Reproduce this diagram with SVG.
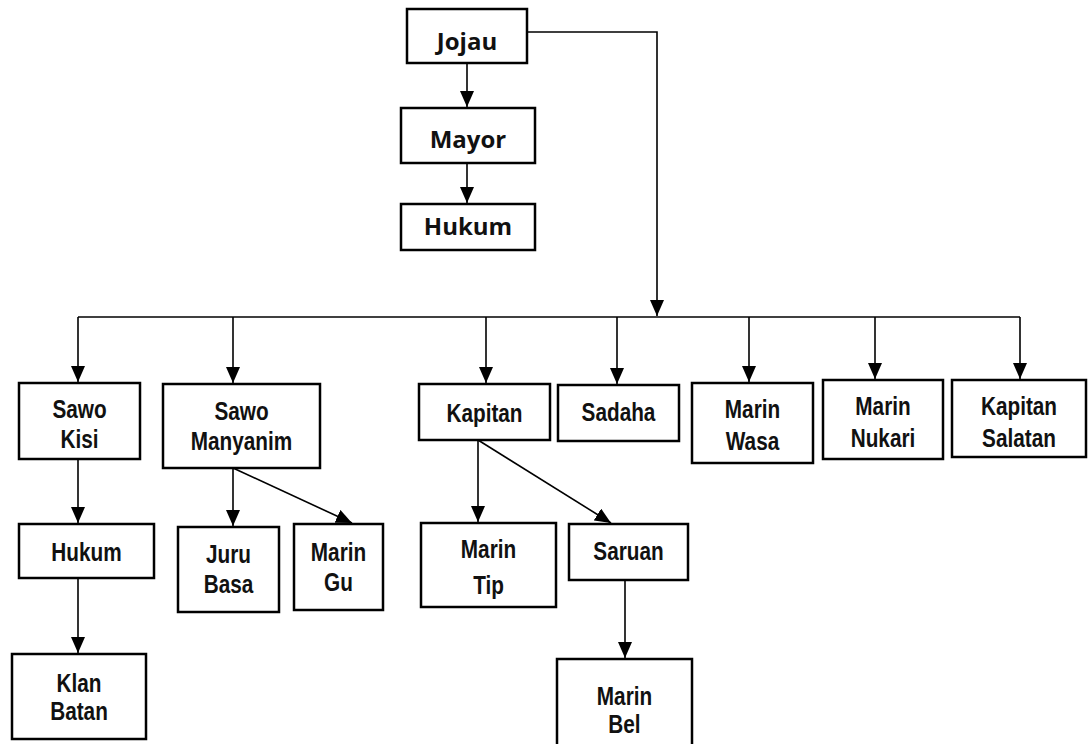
<svg xmlns="http://www.w3.org/2000/svg" width="1088" height="744" viewBox="0 0 1088 744">
<style>
.box{fill:#fff;stroke:#000;stroke-width:2.5}
.c{fill:none;stroke:#000;stroke-width:1.6}
.t1{font-family:"Open Sans","Liberation Sans",sans-serif;font-weight:700;font-size:24px;text-anchor:middle;fill:#111}
.t2{font-family:"Liberation Sans",Arial,sans-serif;font-weight:700;font-size:25px;text-anchor:middle;fill:#111}
</style>
<defs>
<marker id="ah" markerUnits="userSpaceOnUse" markerWidth="16" markerHeight="14" refX="16" refY="7" orient="auto">
<path d="M0,0 L16,7 L0,14 z" fill="#000"/>
</marker>
</defs>
<rect width="1088" height="744" fill="#fff"/>
<g id="connectors">
<line class="c" x1="467" y1="63" x2="467" y2="107" marker-end="url(#ah)"/>
<line class="c" x1="467" y1="163" x2="467" y2="203" marker-end="url(#ah)"/>
<polyline class="c" points="527,32 657,32 657,316" marker-end="url(#ah)"/>
<line class="c" x1="78" y1="317" x2="1020" y2="317"/>
<line class="c" x1="78" y1="317" x2="78" y2="382" marker-end="url(#ah)"/>
<line class="c" x1="233" y1="317" x2="233" y2="383" marker-end="url(#ah)"/>
<line class="c" x1="486" y1="317" x2="486" y2="383" marker-end="url(#ah)"/>
<line class="c" x1="617" y1="317" x2="617" y2="384" marker-end="url(#ah)"/>
<line class="c" x1="749" y1="317" x2="749" y2="382" marker-end="url(#ah)"/>
<line class="c" x1="875" y1="317" x2="875" y2="379" marker-end="url(#ah)"/>
<line class="c" x1="1020" y1="317" x2="1020" y2="379" marker-end="url(#ah)"/>
<line class="c" x1="78" y1="459" x2="78" y2="523" marker-end="url(#ah)"/>
<line class="c" x1="78" y1="578" x2="78" y2="653" marker-end="url(#ah)"/>
<line class="c" x1="233" y1="468" x2="233" y2="526" marker-end="url(#ah)"/>
<line class="c" x1="233" y1="468" x2="352" y2="523" marker-end="url(#ah)"/>
<line class="c" x1="478" y1="440" x2="478" y2="522" marker-end="url(#ah)"/>
<line class="c" x1="478" y1="440" x2="611" y2="523" marker-end="url(#ah)"/>
<line class="c" x1="625" y1="580" x2="625" y2="658" marker-end="url(#ah)"/>
</g>
<g id="jojau"><rect class="box" x="407" y="9" width="120" height="54"/><text class="t1" x="467" y="50">Jojau</text></g>
<g id="mayor"><rect class="box" x="401" y="108" width="134" height="55"/><text class="t1" x="468" y="148">Mayor</text></g>
<g id="hukum-top"><rect class="box" x="401" y="204" width="134" height="46"/><text class="t1" x="468" y="235">Hukum</text></g>
<g id="sawo-kisi"><rect class="box" x="19" y="383" width="121" height="76"/>
<text class="t2" transform="translate(79.5,418) scale(0.83,1)">Sawo</text><text class="t2" transform="translate(79.5,448) scale(0.83,1)">Kisi</text></g>
<g id="sawo-manyanim"><rect class="box" x="163" y="384" width="157" height="84"/>
<text class="t2" transform="translate(241.5,420) scale(0.83,1)">Sawo</text><text class="t2" transform="translate(241.5,450) scale(0.83,1)">Manyanim</text></g>
<g id="kapitan"><rect class="box" x="419" y="384" width="131" height="56"/>
<text class="t2" transform="translate(484.5,422) scale(0.83,1)">Kapitan</text></g>
<g id="sadaha"><rect class="box" x="558" y="385" width="121" height="56"/>
<text class="t2" transform="translate(618.5,421) scale(0.83,1)">Sadaha</text></g>
<g id="marin-wasa"><rect class="box" x="692" y="383" width="121" height="80"/>
<text class="t2" transform="translate(752.5,418) scale(0.83,1)">Marin</text><text class="t2" transform="translate(752.5,450) scale(0.83,1)">Wasa</text></g>
<g id="marin-nukari"><rect class="box" x="823" y="380" width="120" height="79"/>
<text class="t2" transform="translate(883,415) scale(0.83,1)">Marin</text><text class="t2" transform="translate(883,447) scale(0.83,1)">Nukari</text></g>
<g id="kapitan-salatan"><rect class="box" x="952" y="380" width="134" height="77"/>
<text class="t2" transform="translate(1019,415) scale(0.83,1)">Kapitan</text><text class="t2" transform="translate(1019,447) scale(0.83,1)">Salatan</text></g>
<g id="hukum-left"><rect class="box" x="19" y="524" width="135" height="54"/>
<text class="t2" transform="translate(86.5,561) scale(0.83,1)">Hukum</text></g>
<g id="juru-basa"><rect class="box" x="178" y="527" width="101" height="85"/>
<text class="t2" transform="translate(228.5,563) scale(0.83,1)">Juru</text><text class="t2" transform="translate(228.5,593) scale(0.83,1)">Basa</text></g>
<g id="marin-gu"><rect class="box" x="294" y="524" width="89" height="86"/>
<text class="t2" transform="translate(338.5,561) scale(0.83,1)">Marin</text><text class="t2" transform="translate(338.5,591) scale(0.83,1)">Gu</text></g>
<g id="marin-tip"><rect class="box" x="421" y="523" width="135" height="84"/>
<text class="t2" transform="translate(488.5,558) scale(0.83,1)">Marin</text><text class="t2" transform="translate(488.5,594) scale(0.83,1)">Tip</text></g>
<g id="saruan"><rect class="box" x="569" y="524" width="119" height="56"/>
<text class="t2" transform="translate(628.5,560) scale(0.83,1)">Saruan</text></g>
<g id="marin-bel"><rect class="box" x="557" y="659" width="135" height="95"/>
<text class="t2" transform="translate(624.5,705) scale(0.83,1)">Marin</text><text class="t2" transform="translate(624.5,733) scale(0.83,1)">Bel</text></g>
<g id="klan-batan"><rect class="box" x="12" y="654" width="134" height="85"/>
<text class="t2" transform="translate(79,692) scale(0.83,1)">Klan</text><text class="t2" transform="translate(79,720) scale(0.83,1)">Batan</text></g>
</svg>
